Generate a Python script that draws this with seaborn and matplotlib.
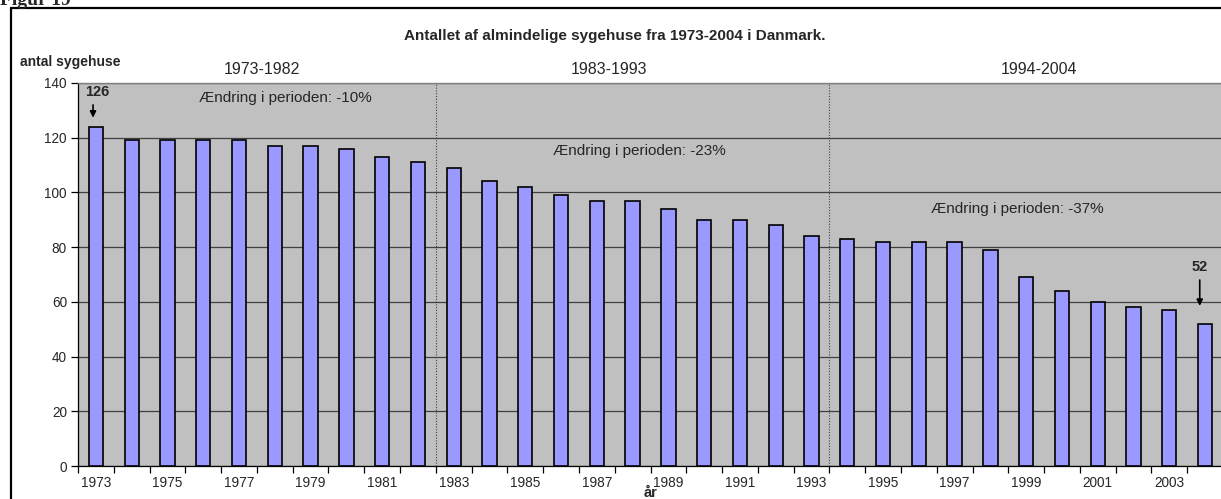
import numpy as np
import pandas as pd
import matplotlib
matplotlib.use("Agg")
import matplotlib.pyplot as plt
from matplotlib.lines import Line2D
import seaborn as sns

# ---------- DATA ----------
years = list(range(1973, 2005))
hospitals = [124, 119, 119, 119, 119, 117, 117, 116, 113, 111,
             109, 104, 102, 99, 97, 97, 94, 90, 90, 88, 84,
             83, 82, 82, 82, 79, 69, 64, 60, 58, 57, 52]
periods = ["1973-1982", "1983-1993", "1994-2004"]
period_changes = ["Ændring i perioden: -10%", "Ændring i perioden: -23%",
                  "Ændring i perioden: -37%"]
period_bounds = [9.5, 20.5]

df = pd.DataFrame({"aar": [str(y) for y in years], "antal": hospitals})

# ---------- STYLE ----------
sns.set_style("white")
plt.rcParams["font.family"] = ["Liberation Sans", "DejaVu Sans"]

fig = plt.figure(figsize=(12.21, 4.99), dpi=100)
ax = fig.add_axes([78 / 1221, 33 / 499, 1145 / 1221, 383 / 499])
ax.set_facecolor("#C0C0C0")

sns.barplot(data=df, x="aar", y="antal", color="#9999FF", saturation=1,
            width=0.4, edgecolor="black", linewidth=1.2, ax=ax, zorder=3)

# ---------- AXES ----------
ax.set_xlim(-0.5, len(years) - 0.5)
ax.set_ylim(0, 140)
ax.set_yticks(range(0, 141, 20))
ax.yaxis.grid(True, color="#404040", linewidth=0.9, zorder=1)
ax.set_axisbelow(True)

ax.set_xticks(np.arange(-0.5, len(years), 1))
ax.set_xticklabels([""] * len(np.arange(-0.5, len(years), 1)))
ax.set_xticks(range(0, len(years), 2), minor=True)
ax.set_xticklabels([str(y) for y in years[::2]], minor=True, fontsize=9.8)
ax.tick_params(axis="x", which="major", length=5, width=0.9, color="black", direction="out")
ax.tick_params(axis="x", which="minor", length=0, pad=7)
ax.tick_params(axis="y", length=5, width=0.9, color="black", direction="out",
               labelsize=9.8, pad=3)
ax.tick_params(bottom=True, left=True)

for side in ["top", "right"]:
    ax.spines[side].set_color("#808080")
    ax.spines[side].set_linewidth(1)
for side in ["left", "bottom"]:
    ax.spines[side].set_color("black")
    ax.spines[side].set_linewidth(0.9)

ax.set_xlabel("år", fontsize=10.5, fontweight="bold", labelpad=-3)
ax.set_ylabel("")

# period separators
for b in period_bounds:
    ax.axvline(b, color="#404040", linestyle=(0, (1, 1.5)), linewidth=0.8, zorder=2)

# period labels
for xc, lab in zip([4.64, 14.33, 26.35], periods):
    ax.text(xc, 145, lab, ha="center", va="center", fontsize=11.5, clip_on=False)

# change texts
ax.text(5.3, 134.5, period_changes[0], ha="center", va="center", fontsize=11)
ax.text(15.2, 115.3, period_changes[1], ha="center", va="center", fontsize=11)
ax.text(25.75, 94, period_changes[2], ha="center", va="center", fontsize=11)

# first / last annotations
ax.text(0.05, 136.7, "126", ha="center", va="center", fontsize=10.5, fontweight="bold")
ax.annotate("", xy=(-0.08, 126.3), xytext=(-0.08, 133),
            arrowprops=dict(arrowstyle="-|>", color="black", lw=1.2, mutation_scale=9))
ax.text(30.85, 72.7, "52", ha="center", va="center", fontsize=10.5, fontweight="bold")
ax.annotate("", xy=(30.85, 57.5), xytext=(30.85, 69),
            arrowprops=dict(arrowstyle="-|>", color="black", lw=1.2, mutation_scale=9))

# ---------- FIGURE TEXT ----------
fig.text(615 / 1221, 1 - 36 / 499, "Antallet af almindelige sygehuse fra 1973-2004 i Danmark.",
         ha="center", va="center", fontsize=11, fontweight="bold")
fig.text(20 / 1221, 1 - 62 / 499, "antal sygehuse", ha="left", va="center",
         fontsize=10, fontweight="bold")
fig.text(0, 1 - 5 / 499, "Figur 19", ha="left", va="baseline", fontsize=14,
         fontweight="bold", family=["Liberation Serif", "DejaVu Serif"])

# outer frame
fig.add_artist(Line2D([10.5 / 1221, 10.5 / 1221], [-0.05, 1 - 8 / 499],
                      transform=fig.transFigure, color="black", lw=1.6))
fig.add_artist(Line2D([10.5 / 1221, 1.05], [1 - 8 / 499, 1 - 8 / 499],
                      transform=fig.transFigure, color="black", lw=1.6))

fig.savefig("out.png", dpi=100)
